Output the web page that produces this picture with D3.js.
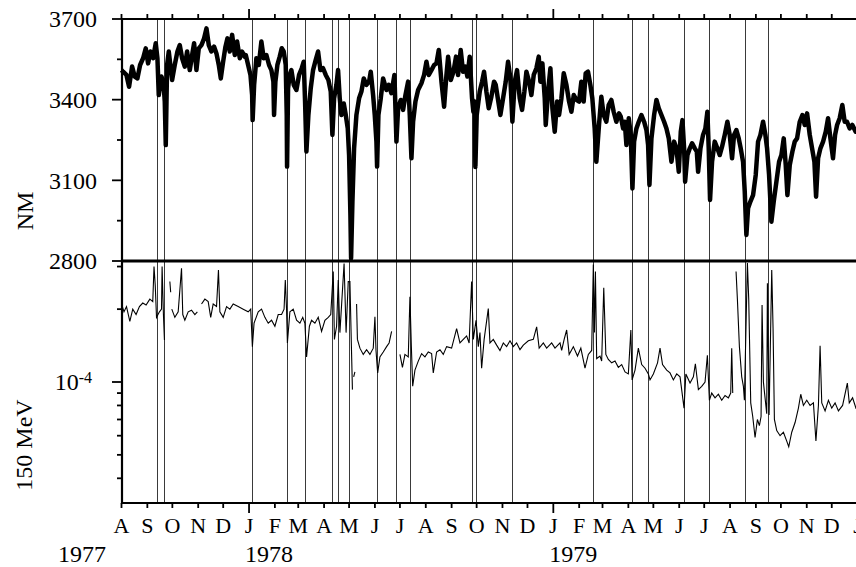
<!DOCTYPE html>
<html>
<head>
<meta charset="utf-8">
<script src="https://cdn.jsdelivr.net/npm/d3@7"></script>
<style>
body { margin: 0; background: #fff; }
svg { display: block; font-family: "Liberation Serif", "Times New Roman", serif; }
</style>
</head>
<body>
<svg id="chart" width="856" height="567"></svg>
<script>
// days are counted from 1 Aug 1977
var startDate = new Date(Date.UTC(1977, 7, 1)),
    endDate = new Date(Date.UTC(1980, 0, 1));

// neutron monitor counting rate: [day, value]
var nmSeries = [
  [0,3510],[1.9,3504],[5.9,3492],[9.1,3448],[12.7,3523],[15.9,3486],[19.1,3479],[22.3,3529],
  [25.9,3554],[29.1,3591],[31.9,3535],[34.7,3579],[37.9,3554],[41.1,3610],[43.1,3554],[44.7,3417],
  [47.9,3486],[50.3,3467],[51.9,3393],[53.1,3231],[54.7,3529],[56.7,3579],[60.7,3473],[63.9,3529],
  [67.1,3579],[69.9,3603],[72.7,3554],[75.9,3523],[78.7,3579],[81.9,3510],[84.7,3566],[87.1,3610],
  [89.9,3510],[92.7,3591],[95.9,3603],[99.1,3628],[101.9,3665],[104.7,3603],[107.9,3579],[111.1,3597],
  [113.9,3572],[116.7,3529],[119.1,3479],[121.9,3541],[124.7,3597],[127.1,3628],[129.9,3579],
  [132.7,3641],[135.9,3566],[138.7,3616],[141.9,3554],[144.6,3579],[147.8,3560],[149.1,3566],
  [151.9,3529],[154.7,3492],[156.7,3417],[157.3,3324],[159.1,3455],[161.8,3554],[164.7,3529],
  [167.8,3616],[170.6,3554],[173.8,3566],[177,3529],[179.8,3510],[182.2,3467],[183,3343],[184.6,3467],
  [187,3529],[189.8,3560],[192.2,3591],[194.6,3579],[197,3529],[198.2,3343],[198.6,3151],[199.8,3442],
  [201.8,3492],[203.8,3510],[206.6,3455],[209.8,3436],[213,3492],[216.2,3517],[218.6,3541],
  [220.2,3393],[221.8,3207],[224.2,3343],[227,3442],[229.8,3510],[233,3548],[235.8,3579],[238.6,3510],
  [241.8,3517],[245,3492],[248.2,3473],[251,3430],[253,3269],[255,3405],[257.8,3455],[259.8,3510],
  [261.8,3405],[263.8,3343],[266.6,3386],[269,3343],[271.4,3293],[273,3194],[274.6,2971],[275.4,2810],
  [277,3021],[279,3219],[281.8,3343],[285,3405],[287.8,3430],[290.6,3479],[293.8,3455],[297,3467],
  [299,3504],[301.8,3417],[303.8,3343],[305.8,3244],[306.6,3151],[308.2,3343],[311,3405],[313.8,3479],
  [317.8,3436],[320.6,3455],[323.8,3424],[327.4,3492],[328.6,3368],[329.8,3244],[331.8,3368],
  [335,3399],[337.8,3362],[340.6,3417],[343.8,3467],[345.8,3343],[347.8,3182],[349.8,3318],
  [352.6,3393],[355.8,3436],[359.8,3461],[363,3492],[365.8,3541],[368.6,3492],[371.8,3510],
  [375,3529],[377.8,3535],[380.6,3585],[383.8,3467],[387,3374],[389.8,3492],[391.8,3560],[395,3473],
  [398.2,3504],[401.3,3560],[403.7,3492],[406.9,3585],[409.7,3504],[412.5,3523],[414.9,3486],
  [417.7,3560],[420.5,3405],[422.1,3355],[423.7,3393],[424.5,3150],[426.1,3343],[429.7,3430],
  [432.5,3467],[434.9,3504],[437.7,3430],[440.5,3368],[443.7,3411],[446.9,3467],[448.9,3455],
  [451.7,3399],[454.5,3343],[457.7,3405],[460.9,3467],[463.7,3541],[466.5,3479],[468.9,3318],
  [471.7,3467],[474.5,3510],[477.7,3405],[480.5,3362],[483.3,3430],[485.7,3504],[488.9,3467],
  [491.7,3417],[494.5,3492],[497.7,3517],[500.5,3560],[502.5,3467],[504.9,3535],[507.7,3405],
  [508.9,3306],[511.7,3430],[514.5,3517],[516.9,3368],[519.7,3281],[522.5,3393],[524.9,3343],
  [527.7,3405],[530.5,3498],[533.7,3455],[536.9,3393],[539.7,3355],[542.5,3417],[545.7,3399],
  [548.9,3393],[551.6,3467],[554.4,3393],[556.8,3498],[559.6,3504],[562.4,3455],[564.8,3405],
  [567.6,3293],[569.6,3169],[572.8,3306],[575.6,3411],[578.4,3343],[581.6,3318],[584.4,3380],
  [587.6,3399],[590.4,3355],[593.6,3318],[596.8,3349],[598.9,3337],[601.7,3293],[603.7,3318],
  [605.7,3231],[608.5,3331],[610.9,3269],[612.9,3070],[614.9,3244],[617.7,3293],[620.5,3318],
  [623.7,3343],[626.9,3318],[629.7,3287],[631.7,3231],[633.3,3083],[635.7,3256],[638.9,3343],
  [641.7,3399],[644.5,3368],[647.7,3343],[650.9,3318],[653.7,3293],[656.5,3256],[659.7,3169],
  [662.9,3244],[665.7,3219],[668.5,3132],[670.9,3281],[672.9,3324],[674.9,3219],[676.1,3095],
  [678.9,3194],[681.7,3219],[684.5,3238],[687.7,3219],[690.1,3207],[691.7,3132],[694.5,3219],
  [697.6,3269],[700.4,3293],[702.8,3355],[704.4,3219],[706,3027],[708.4,3169],[711.6,3244],
  [714.8,3219],[717.6,3194],[720.4,3225],[723.6,3269],[726.8,3318],[729.6,3269],[732.4,3182],
  [734.8,3269],[737.6,3287],[740.4,3256],[742.8,3219],[745.6,3169],[747.6,3060],[749.6,2897],
  [751.6,2996],[754.4,3021],[757.6,3045],[760.8,3120],[763.6,3244],[766.4,3269],[769.6,3318],
  [772.4,3269],[774.4,3219],[776.8,3120],[779.6,2946],[782.4,3021],[785.6,3095],[788.8,3169],
  [791.6,3194],[794.4,3256],[796.8,3157],[798.8,3045],[801.6,3157],[804.8,3207],[807.6,3244],
  [810.4,3256],[813.6,3318],[816.8,3343],[819.6,3306],[822.4,3349],[825.6,3269],[828.4,3219],
  [831.2,3169],[833.2,3039],[835.6,3182],[838.4,3219],[841.6,3244],[844.8,3281],[847.6,3331],
  [850.4,3256],[853.5,3182],[856,3269],[858.4,3306],[861.5,3331],[864.7,3380],[867.5,3318],
  [870.3,3318],[873.5,3293],[876.7,3306],[880.7,3281],[884,3290]
];

// 150 MeV channel: [day, value], null = data gap
var mev150 = [
  [0,2.1e-4],[3,1.95e-4],[6,2.05e-4],[10,1.78e-4],[13.5,2.0e-4],[17.5,1.9e-4],[21.5,2.05e-4],
  [25.5,2.12e-4],[29.5,2.08e-4],[34,2.2e-4],[37.5,2.15e-4],[39,3.0e-4],[40.5,2.5e-4],[42,1.85e-4],
  [45.5,1.95e-4],[48,2.0e-4],[48.7,3.0e-4],[50.3,1.9e-4],[51.5,1.49e-4],
  null,
  [58,2.6e-4],[59,2.35e-4],
  null,
  [60.3,2.0e-4],[64,1.85e-4],[68,1.95e-4],[72,2.95e-4],[73.5,1.9e-4],[76,1.8e-4],[80,1.95e-4],
  [84,1.98e-4],[88,1.9e-4],[91,1.95e-4],
  null,
  [96,2.1e-4],[100,2.2e-4],[104,2.15e-4],[107,1.85e-4],[110,2.1e-4],[114,2.05e-4],[116.3,2.9e-4],
  [118,1.95e-4],[122,1.85e-4],[126,2.05e-4],[130,2.0e-4],[134,2.1e-4],[140,2.05e-4],[146,2.0e-4],
  [152,1.95e-4],[155,2.0e-4],[157,1.4e-4],[159,1.75e-4],[164,1.95e-4],[168,2.0e-4],[172,1.85e-4],
  [176,1.75e-4],[180,1.8e-4],[184,1.7e-4],[188,1.9e-4],[192,1.9e-4],[195,2.0e-4],[196.5,2.64e-4],
  [198,2.0e-4],[199,1.45e-4],[202,1.95e-4],[206,2.0e-4],[210,1.8e-4],[214,1.75e-4],[217.4,1.85e-4],
  [220,1.75e-4],[222,1.27e-4],[225.4,1.7e-4],[228,1.8e-4],[232,1.75e-4],[236,1.85e-4],[240,1.62e-4],
  [244,1.8e-4],[248,1.85e-4],[251,1.9e-4],[254,2.86e-4],[255.4,1.5e-4],[258,1.7e-4],[260,2.64e-4],
  [262,1.6e-4],[267,3.09e-4],[269.4,1.6e-4],[272,2.6e-4],[274,2.6e-4],[275.8,1.4e-4],[277,9.3e-5],
  null,
  [278.5,1.05e-4],[280,1.1e-4],
  null,
  [282,2.1e-4],[283,1.5e-4],[286,1.38e-4],[290,1.3e-4],[294,1.36e-4],[298,1.3e-4],[302,1.38e-4],
  [304,1.86e-4],[305.3,1.35e-4],[307.3,1.09e-4],[310,1.27e-4],[314,1.33e-4],[318,1.4e-4],
  [321,1.45e-4],[324,1.62e-4],
  null,
  [334,1.3e-4],[337,1.15e-4],[340,1.3e-4],[344,1.27e-4],[346,2.25e-4],[347.7,1.4e-4],[349.3,9.6e-5],
  [352,1.12e-4],[356,1.22e-4],[360,1.31e-4],[364,1.27e-4],[368,1.33e-4],[372,1.31e-4],[374,1.09e-4],
  [378,1.33e-4],[382,1.36e-4],[386,1.3e-4],[390,1.4e-4],[396,1.38e-4],[402,1.66e-4],[406,1.45e-4],
  [410,1.5e-4],[414,1.55e-4],[417,1.45e-4],[420,2.6e-4],[422,1.5e-4],[425.3,1.8e-4],[428,1.4e-4],
  [430,1.6e-4],[432,1.14e-4],[435,1.5e-4],[440,2.01e-4],[442,1.45e-4],[446,1.5e-4],[450,1.42e-4],
  [454,1.35e-4],[458,1.45e-4],[462,1.4e-4],[466,1.48e-4],[470,1.4e-4],[474,1.45e-4],[478,1.36e-4],
  [482,1.42e-4],[488,1.48e-4],[494,1.5e-4],[498,1.69e-4],[501,1.38e-4],[506,1.45e-4],[510,1.38e-4],
  [516,1.45e-4],[520,1.38e-4],[526,1.45e-4],[528,1.35e-4],[531,1.5e-4],[534,1.64e-4],[537,1.3e-4],
  [542,1.4e-4],[547,1.28e-4],[551,1.38e-4],[556,1.14e-4],[560,1.3e-4],[564,1.35e-4],[566,3.06e-4],
  [567.3,1.6e-4],[568.5,2.86e-4],[570,1.25e-4],[574,1.28e-4],[576,1.22e-4],[578.5,2.45e-4],
  [581,1.3e-4],[584,1.24e-4],[588,1.2e-4],[592,1.22e-4],[596,1.15e-4],[600,1.18e-4],[604,1.1e-4],
  [608,1.08e-4],[611,1.64e-4],[612.5,1.02e-4],[616,1.12e-4],[620,1.38e-4],[624,1.18e-4],[628,1.14e-4],
  [632,1.08e-4],[634,1.02e-4],[638,1.08e-4],[643,1.2e-4],[646,1.38e-4],[649,1.18e-4],[654,1.12e-4],
  [658,1.09e-4],[662,1.02e-4],[666,1.08e-4],[670,1.05e-4],[674.8,7.8e-5],[677,1.08e-4],[682,9.9e-5],
  [686,1.05e-4],[688.4,1.19e-4],[692,9.3e-5],[696,9.6e-5],[700,1.0e-4],[702.8,1.29e-4],[705.2,8.4e-5],
  [708,9.0e-5],[712,8.6e-5],[716,8.9e-5],[720,8.4e-5],[724,8.8e-5],[728,8.6e-5],[730.8,9.0e-5],
  [732,1.38e-4],[733.2,9.0e-5],
  null,
  [737.2,2.86e-4],[738.8,2.2e-4],[741.2,1.4e-4],[744,1.05e-4],[746,9.6e-5],[747.2,8.4e-5],
  [748.4,1.3e-4],[750.8,3.1e-4],[752.4,2.2e-4],[754.8,8.2e-5],[757.2,7.2e-5],[760,5.9e-5],
  [762.8,7.0e-5],[765.2,6.6e-5],[767.2,7.2e-5],[768.4,2.08e-4],[770,1.0e-4],[772,8.6e-5],[774,7.4e-5],
  [774.8,2.56e-4],[776.8,7.3e-5],[780,2.9e-4],[781.6,1.66e-4],[783.2,7.0e-5],[786,6.3e-5],[790,6.0e-5],
  [794,6.2e-5],[798,5.7e-5],[800.4,5.4e-5],[804,6.2e-5],[808,6.8e-5],[812,7.8e-5],[814.8,8.9e-5],
  [818,8.0e-5],[822,8.4e-5],[826,8.0e-5],[830,8.2e-5],[833,5.7e-5],[836,8.0e-5],[838,1.41e-4],
  [840,8.2e-5],[844,7.6e-5],[848,8.4e-5],[852,7.8e-5],[856,8.2e-5],[860,7.6e-5],[865,8.0e-5],
  [870.7,9.9e-5],[873,8.2e-5],[877,8.6e-5],[881,7.8e-5],[884,8.0e-5]
];

var eventDates = [
  "1977-09-12","1977-09-21","1978-01-04","1978-02-15","1978-03-09","1978-04-11","1978-04-18",
  "1978-05-01","1978-06-03","1978-06-26","1978-07-13","1978-09-25","1978-09-30","1978-11-12",
  "1979-02-18","1979-04-05","1979-04-25","1979-06-07","1979-07-07","1979-08-19","1979-09-15"
];

var monthLetters = ["J","F","M","A","M","J","J","A","S","O","N","D"];
var yearLabels = ["1977","1978","1979"];
var nmMajor = [2800, 3100, 3400, 3700],
    nmMinor = [2950, 3250, 3550];
var mevMajor = [1e-4],
    mevMinor = [4e-5, 5e-5, 6e-5, 7e-5, 8e-5, 9e-5, 2e-4, 3e-4];

var plotLeft = 122, plotTop = 19, plotMid = 261, plotBottom = 503;

var svg = d3.select("#chart");

var x = d3.scaleUtc().domain([startDate, endDate]).range([121.5, 857.6]);
var yNM = d3.scaleLinear().domain([2800, 3700]).range([plotMid, plotTop]);
var yMeV = d3.scaleLog().domain([Math.pow(10, -4.5), Math.pow(10, -3.5)])
    .range([plotBottom, plotMid]).clamp(true);

function dayDate(d) { return new Date(+startDate + d * 864e5); }

// event markers
var parse = d3.utcParse("%Y-%m-%d");
svg.append("g").selectAll("line")
  .data(eventDates)
  .join("line")
    .attr("x1", function(d) { return Math.round(x(parse(d))) + 0.5; })
    .attr("x2", function(d) { return Math.round(x(parse(d))) + 0.5; })
    .attr("y1", plotTop).attr("y2", plotBottom)
    .attr("stroke", "#3a3a3a").attr("stroke-width", 1);

// NM trace (drawn thick, like the dense hourly record)
var nmLine = d3.line()
  .x(function(d) { return x(dayDate(d[0])); })
  .y(function(d) { return yNM(d[1]); });
svg.append("path")
  .datum(nmSeries)
  .attr("d", nmLine)
  .attr("fill", "none").attr("stroke", "#000").attr("stroke-width", 4.5)
  .attr("stroke-linejoin", "round");

// 150 MeV
var line = d3.line()
  .defined(function(d) { return d !== null; })
  .x(function(d) { return x(dayDate(d[0])); })
  .y(function(d) { return yMeV(d[1]); });
svg.append("path")
  .datum(mev150)
  .attr("d", line)
  .attr("fill", "none").attr("stroke", "#000").attr("stroke-width", 1.1);

// frame
var frame = svg.append("g").attr("stroke", "#000").attr("stroke-width", 2.2);
frame.append("line").attr("x1", plotLeft).attr("x2", 856).attr("y1", plotTop).attr("y2", plotTop);
frame.append("line").attr("x1", plotLeft).attr("x2", 856).attr("y1", plotMid).attr("y2", plotMid)
  .attr("stroke-width", 2.8);
frame.append("line").attr("x1", plotLeft).attr("x2", 856).attr("y1", plotBottom).attr("y2", plotBottom);
frame.append("line").attr("x1", plotLeft).attr("x2", plotLeft).attr("y1", plotTop - 1).attr("y2", plotBottom + 1);

// month ticks, top and bottom
var months = d3.utcMonth.range(startDate, d3.utcDay.offset(endDate, 1));
var ticks = svg.append("g").attr("stroke", "#000").attr("stroke-width", 1.8);
months.forEach(function(m) {
  var len = m.getUTCMonth() === 0 ? 10 : 5, xi = x(m);
  ticks.append("line").attr("x1", xi).attr("x2", xi).attr("y1", plotTop).attr("y2", plotTop - len);
  ticks.append("line").attr("x1", xi).attr("x2", xi).attr("y1", plotBottom).attr("y2", plotBottom + len);
});

// left ticks
function leftTick(yv, len) {
  ticks.append("line").attr("x1", plotLeft).attr("x2", plotLeft - len).attr("y1", yv).attr("y2", yv);
}
nmMajor.forEach(function(v) { leftTick(yNM(v), 10); });
nmMinor.forEach(function(v) { leftTick(yNM(v), 5); });
mevMajor.forEach(function(v) { leftTick(yMeV(v), 10); });
mevMinor.forEach(function(v) { leftTick(yMeV(v), 5); });

// labels
var labels = svg.append("g").attr("fill", "#000").style("font-size", "24px");
nmMajor.forEach(function(v) {
  labels.append("text").attr("x", 97).attr("y", yNM(v)).attr("dy", "0.35em")
    .attr("text-anchor", "end").text(v);
});
var pow = labels.append("text").attr("x", 92).attr("y", yMeV(1e-4)).attr("dy", "0.35em")
  .attr("text-anchor", "end");
pow.append("tspan").text("10");
pow.append("tspan").attr("dy", "-0.45em").style("font-size", "16px").text("-4");

months.forEach(function(m) {
  labels.append("text").attr("x", x(m)).attr("y", 533).style("font-size", "22px")
    .attr("text-anchor", "middle").text(monthLetters[m.getUTCMonth()]);
});

yearLabels.forEach(function(yr, i) {
  var xi = i === 0 ? 58 : x(new Date(Date.UTC(+yr, 0, 1))) - 4;
  labels.append("text").attr("x", xi).attr("y", 562).text(yr);
});

labels.append("text").attr("transform", "translate(33,211) rotate(-90)")
  .attr("text-anchor", "middle").text("NM");
labels.append("text").attr("transform", "translate(32,445) rotate(-90)")
  .attr("text-anchor", "middle").text("150 MeV");
</script>
</body>
</html>
